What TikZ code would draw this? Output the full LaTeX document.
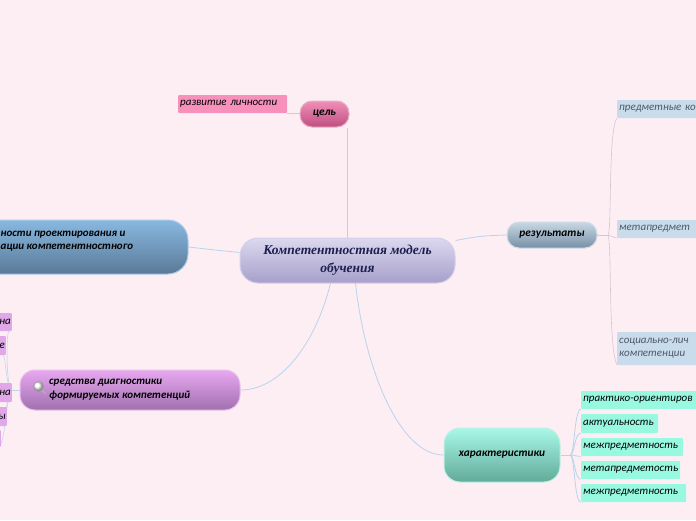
\documentclass[tikz,border=0pt]{standalone}
\usepackage{fontspec}
\setmainfont{Carlito}
\newfontfamily\titlefont{Liberation Serif}
\pgfdeclarelayer{background}
\pgfsetlayers{background,main}
\definecolor{bg}{HTML}{FDEEF4}
\definecolor{conn}{HTML}{B8D4EC}
\definecolor{connr}{HTML}{D8C4D0}
\definecolor{ctop}{HTML}{DCD8F0}
\definecolor{cbot}{HTML}{A6A0CA}
\definecolor{cdraw}{HTML}{D4D0EA}
\definecolor{ctext}{HTML}{1C2050}
\definecolor{gtop}{HTML}{F090B8}
\definecolor{gbot}{HTML}{C04E80}
\definecolor{gdraw}{HTML}{E8B0C8}
\definecolor{devfill}{HTML}{F890BC}
\definecolor{btop}{HTML}{88B8E0}
\definecolor{bbot}{HTML}{5A7A98}
\definecolor{bdraw}{HTML}{A8CCE8}
\definecolor{ptop}{HTML}{E8A8F0}
\definecolor{pbot}{HTML}{A070AE}
\definecolor{pdraw}{HTML}{E8C0EE}
\definecolor{pleaffill}{HTML}{E0A8E8}
\definecolor{icondraw}{HTML}{A098A8}
\definecolor{iconhandle}{HTML}{B8A8C0}
\definecolor{rtop}{HTML}{C8D8E4}
\definecolor{rbot}{HTML}{7890A6}
\definecolor{rdraw}{HTML}{D0DCE8}
\definecolor{rleaffill}{HTML}{C8DCEC}
\definecolor{rleaftext}{HTML}{505868}
\definecolor{htop}{HTML}{A8F8E8}
\definecolor{hbot}{HTML}{62AA9A}
\definecolor{hdraw}{HTML}{C0F0E4}
\definecolor{kleaffill}{HTML}{98F8E0}
\begin{document}
\begin{tikzpicture}[x=1pt,y=-1pt,
  mainbox/.style={rounded corners=12pt, line width=1pt, inner sep=0pt, font=\bfseries\itshape\fontsize{11.3}{13}\selectfont, align=center},
  leafbox/.style={rounded corners=1pt, inner sep=0pt, minimum height=18pt, font=\itshape\fontsize{11}{12.5}\selectfont, align=left, anchor=west},
  link/.style={draw=conn, line width=0.8pt},
  rlink/.style={draw=connr, line width=0.6pt}]
\begin{pgfonlayer}{background}
\fill[bg] (0,0) rectangle (696,520);
\end{pgfonlayer}
\useasboundingbox (0,0) rectangle (696,520);

% central
\node[mainbox, rounded corners=18pt, top color=ctop, bottom color=cbot, draw=cdraw, minimum width=215pt, minimum height=45pt, font=\titlefont\bfseries\itshape\fontsize{13.5}{18}\selectfont, text=ctext] (c) at (347.5,260.5) {Компетентностная модель\\обучения};

% goal
\node[mainbox, top color=gtop, bottom color=gbot, draw=gdraw, minimum width=49pt, minimum height=26pt] (goal) at (324.5,114) {цель};
\node[leafbox, fill=devfill, minimum width=109pt, text width=105pt, inner xsep=2pt] (dev) at (178,104) {развитие личности};

% left blue
\node[mainbox, rounded corners=20pt, top color=btop, bottom color=bbot, draw=bdraw, minimum width=248pt, minimum height=54pt] (blue) at (64,247) {};
\node[font=\bfseries\itshape\fontsize{11}{13}\selectfont, align=left, anchor=west, inner sep=0pt] (bluetext) at (0.5,241) {ности проектирования и\\ации компетентностного};

% purple
\node[mainbox, rounded corners=15pt, top color=ptop, bottom color=pbot, draw=pdraw, minimum width=220pt, minimum height=40pt] (purp) at (130,390) {};
\node[font=\bfseries\itshape\fontsize{11}{14}\selectfont, align=left, anchor=west, inner sep=0pt] (purptext) at (49,390) {средства диагностики\\формируемых компетенций};
\node[circle, inner sep=0pt, minimum size=10pt, ball color=white, draw=icondraw, line width=0.4pt] (icon) at (38.5,386.5) {};
\draw[line width=1.6pt, draw=iconhandle, line cap=round] (icon.south east) -- ++(3,3);

% purple left leaves
\tikzset{pleaf/.style={rounded corners=1pt, inner sep=0pt, inner xsep=1pt, fill=pleaffill, text width=30pt, align=right, anchor=east, font=\itshape\fontsize{11}{12.5}\selectfont}}
\node[pleaf, minimum height=18pt] (p1) at (12,322) {на};
\node[pleaf, minimum height=19pt] (p2) at (6,345.5) {е};
\node[pleaf, minimum height=19pt] (p3) at (12,392.5) {на};
\node[pleaf, minimum height=19pt] (p4) at (7,416.5) {ы};
\node[pleaf, minimum height=17pt] (p5) at (1,438.5) {};

% results
\node[mainbox, top color=rtop, bottom color=rbot, draw=rdraw, minimum width=90pt, minimum height=26pt] (res) at (552,235) {результаты};
\tikzset{rleaf/.style={leafbox, fill=rleaffill, text=rleaftext, minimum width=85pt, text width=81pt, inner xsep=2pt}}
\node[rleaf] (r1) at (617,109) {предметные ко};
\node[rleaf] (r2) at (617,229) {метапредмет};
\node[rleaf, minimum height=33pt, font=\itshape\fontsize{11}{13}\selectfont] (r3) at (617,348.5) {социально-лич\\компетенции};

% characteristics
\node[mainbox, rounded corners=16pt, top color=htop, bottom color=hbot, draw=hdraw, minimum width=116pt, minimum height=54pt] (ch) at (502,455) {характеристики};
\tikzset{kleaf/.style={leafbox, fill=kleaffill, inner xsep=2pt}}
\node[kleaf, minimum width=120pt, text width=116pt] (k1) at (581,400) {практико-ориентиров};
\node[kleaf, minimum width=77pt, text width=73pt, minimum height=19pt] (k2) at (581,423.5) {актуальность};
\node[kleaf, minimum width=102pt, text width=98pt] (k3) at (581,447) {межпредметность};
\node[kleaf, minimum width=99pt, text width=95pt] (k4) at (581,470) {метапредметость};
\node[kleaf, minimum width=105pt, text width=101pt] (k5) at (581,493) {межпредметность};

\begin{pgfonlayer}{background}
% main connectors
\draw[link] (c.north) -- (c.north |- goal.south);
\draw[link] (dev.south east) -- (dev.south east -| goal.west);
\draw[link] ([yshift=8pt]c.west) .. controls (215,250) .. (blue.east);
\draw[link] ([yshift=20pt]c.east) .. controls (480,236) .. (res.west);
\draw[link] ([xshift=-17pt]c.south) .. controls (315,345) and (280,390) .. (purp.east);
\draw[link] ([xshift=8pt]c.south) .. controls (365,370) and (400,455) .. (ch.west);

% results children
\coordinate (rj) at (608,235);
\draw[rlink] (res.east) -- (rj);
\draw[rlink] (rj) .. controls (612,230) and (608,130) .. (r1.south west);
\draw[rlink] (rj) .. controls (612,236) .. (r2.south west);
\draw[rlink] (rj) .. controls (612,245) and (608,345) .. (r3.south west);

% characteristics children
\coordinate (kj) at (570,455);
\draw[link] (ch.east) -- (kj);
\foreach \k in {k1,k2,k3,k4,k5}{
  \draw[link] (kj) .. controls (575,455) and (574,0 |- \k.south west) .. (\k.south west);
}

% purple children
\coordinate (pj) at (12,390);
\draw[link, line width=0.5pt] (purp.west) -- (pj);
\foreach \p in {p1,p2,p3,p4,p5}{
  \draw[link, line width=0.5pt] (pj) .. controls (6,390) and (6,0 |- \p.south east) .. ([xshift=-3pt]\p.south east);
}
\end{pgfonlayer}
\end{tikzpicture}
\end{document}
